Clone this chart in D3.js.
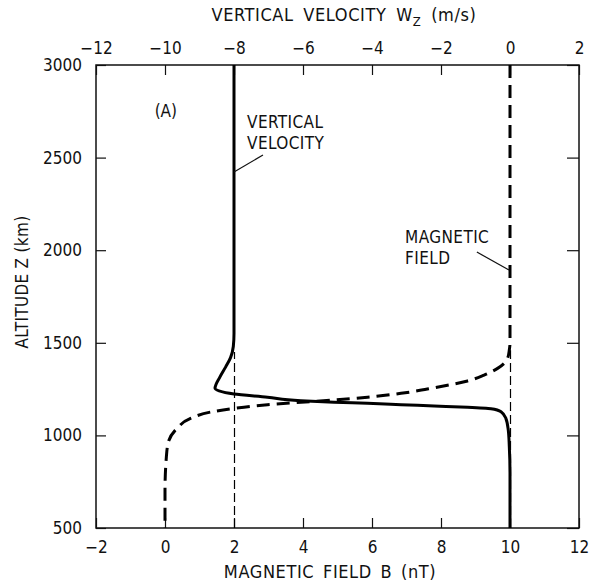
<!DOCTYPE html>
<html>
<head>
<meta charset="utf-8">
<script src="https://cdn.jsdelivr.net/npm/d3@7"></script>
<style>
  body { margin: 0; background: #fff; }
  svg text { font-family: "DejaVu Sans Condensed", "DejaVu Sans", sans-serif; font-stretch: condensed; fill: #111; }
</style>
</head>
<body>
<div id="chart"></div>
<script>
// ticks
const bTicks = [-2, 0, 2, 4, 6, 8, 10, 12];
const wTicks = [-12, -10, -8, -6, -4, -2, 0, 2];
const zTicks = [500, 1000, 1500, 2000, 2500, 3000];

// vertical velocity profile (top axis, m/s) vs altitude (km)
const velAlt = [3000, 1550, 1480, 1420, 1370, 1315, 1254, 1223, 1206, 1187, 1179, 1173, 1166, 1159, 1152, 1144, 1128, 1092, 1029, 939, 800, 500];
const velW   = [-8, -8, -8.02, -8.1, -8.24, -8.41, -8.55, -8.0, -7.03, -6.06, -5.1, -4.13, -3.16, -2.2, -1.23, -0.55, -0.26, -0.12, -0.05, -0.02, 0, 0];

// magnetic field profile (bottom axis, nT) vs altitude (km)
const magAlt = [3000, 1500, 1461, 1416, 1362, 1326, 1294, 1257, 1227, 1206, 1191, 1179, 1166, 1146, 1126, 1092, 1038, 966, 885, 700, 500];
const magB   = [10, 10, 9.98, 9.93, 9.64, 9.25, 8.77, 7.8, 6.84, 5.87, 4.9, 3.94, 2.97, 2.0, 1.32, 0.74, 0.35, 0.1, 0.04, 0, 0];

// thin dashed reference lines (B value, top altitude)
const refB = [2, 10];
const refTop = [1450, 1460];

const width = 595, height = 583;
const margin = {top: 65, right: 16, bottom: 55, left: 96};

const svg = d3.select("#chart").append("svg")
    .attr("width", width)
    .attr("height", height);

const x = d3.scaleLinear().domain([-2, 12]).range([margin.left, width - margin.right]);
const xw = d3.scaleLinear().domain([-12, 2]).range([margin.left, width - margin.right]);
const y = d3.scaleLinear().domain([500, 3000]).range([height - margin.bottom, margin.top]);

const fmt = d3.format("d");

// axes with inward ticks
function styleAxis(g) {
    g.select(".domain").remove();
    g.selectAll(".tick line").attr("stroke", "#111").attr("stroke-width", 1.2);
    g.selectAll(".tick text").attr("font-size", 17).attr("fill", "#111");
}

svg.append("g")
    .attr("transform", `translate(0,${height - margin.bottom})`)
    .call(d3.axisBottom(x).tickValues(bTicks).tickFormat(fmt).tickSizeInner(-10).tickSizeOuter(0).tickPadding(13))
    .call(styleAxis);

svg.append("g")
    .attr("transform", `translate(0,${margin.top})`)
    .call(d3.axisTop(xw).tickValues(wTicks).tickFormat(fmt).tickSizeInner(-10).tickSizeOuter(0).tickPadding(11))
    .call(styleAxis);

svg.append("g")
    .attr("transform", `translate(${margin.left},0)`)
    .call(d3.axisLeft(y).tickValues(zTicks).tickFormat(fmt).tickSizeInner(-10).tickSizeOuter(0).tickPadding(14))
    .call(styleAxis);

svg.append("g")
    .attr("transform", `translate(${width - margin.right},0)`)
    .call(d3.axisRight(y).tickValues(zTicks).tickFormat("").tickSizeInner(-12).tickSizeOuter(0))
    .call(styleAxis);

// frame
svg.append("rect")
    .attr("x", margin.left)
    .attr("y", margin.top)
    .attr("width", width - margin.left - margin.right)
    .attr("height", height - margin.top - margin.bottom)
    .attr("fill", "none")
    .attr("stroke", "#111")
    .attr("stroke-width", 1.5);

// thin dashed reference lines
svg.selectAll(".ref")
    .data(refB)
    .join("line")
    .attr("class", "ref")
    .attr("x1", d => Math.round(x(d)) + 0.5)
    .attr("x2", d => Math.round(x(d)) + 0.5)
    .attr("y1", y(500))
    .attr("y2", (d, i) => y(refTop[i]))
    .attr("stroke", "#000")
    .attr("stroke-width", 1.2)
    .attr("stroke-dasharray", "9,4");

// curves
const velLine = d3.line()
    .x(d => xw(d[1]))
    .y(d => y(d[0]))
    .curve(d3.curveMonotoneY);

svg.append("path")
    .datum(d3.zip(velAlt, velW))
    .attr("d", velLine)
    .attr("fill", "none")
    .attr("stroke", "#000")
    .attr("stroke-width", 3);

const magLine = d3.line()
    .x(d => x(d[1]))
    .y(d => y(d[0]))
    .curve(d3.curveMonotoneY);

svg.append("path")
    .datum(d3.zip(magAlt, magB))
    .attr("d", magLine)
    .attr("fill", "none")
    .attr("stroke", "#000")
    .attr("stroke-width", 3)
    .attr("stroke-dasharray", "13,7");

// annotations
svg.append("text")
    .attr("x", x(-0.3)).attr("y", y(2720))
    .attr("font-size", 17)
    .text("(A)");

const vv = svg.append("text").attr("font-size", 17).attr("letter-spacing", 0.4);
vv.append("tspan").attr("x", x(2.38)).attr("y", y(2660)).text("VERTICAL");
vv.append("tspan").attr("x", x(2.38)).attr("y", y(2546)).text("VELOCITY");
svg.append("line")
    .attr("x1", x(2.84)).attr("y1", y(2514))
    .attr("x2", x(2.0)).attr("y2", y(2422))
    .attr("stroke", "#111").attr("stroke-width", 1.2);

const mf = svg.append("text").attr("font-size", 17).attr("letter-spacing", 0.4);
mf.append("tspan").attr("x", x(6.96)).attr("y", y(2039)).text("MAGNETIC");
mf.append("tspan").attr("x", x(6.96)).attr("y", y(1925)).text("FIELD");
svg.append("line")
    .attr("x1", x(9.04)).attr("y1", y(1990))
    .attr("x2", x(9.97)).attr("y2", y(1893))
    .attr("stroke", "#111").attr("stroke-width", 1.2);

// axis titles
const topTitle = svg.append("text")
    .attr("x", 344)
    .attr("y", 21)
    .attr("text-anchor", "middle")
    .attr("font-size", 18)
    .attr("letter-spacing", 0.6)
    .attr("word-spacing", 4);
topTitle.append("tspan").text("VERTICAL VELOCITY W");
topTitle.append("tspan").attr("dy", 5).attr("font-size", 13).text("Z");
topTitle.append("tspan").attr("dy", -5).text(" (m/s)");

svg.append("text")
    .attr("x", 330)
    .attr("y", 578)
    .attr("text-anchor", "middle")
    .attr("font-size", 18)
    .attr("letter-spacing", 0.6)
    .attr("word-spacing", 3)
    .text("MAGNETIC FIELD B (nT)");

svg.append("text")
    .attr("transform", `translate(28,${282}) rotate(-90)`)
    .attr("text-anchor", "middle")
    .attr("font-size", 17)
    .attr("letter-spacing", 0.3)
    .text("ALTITUDE Z (km)");
</script>
</body>
</html>
